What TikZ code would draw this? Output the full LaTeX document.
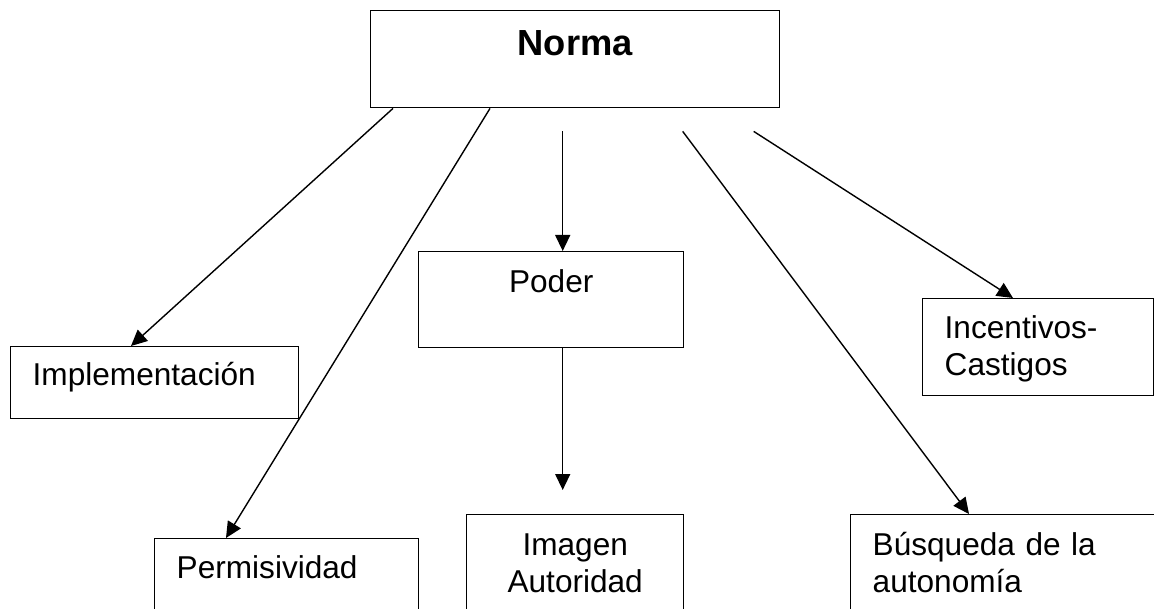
\documentclass[tikz,border=0pt]{standalone}
\usepackage{fontspec}
\setmainfont{Liberation Sans}
\usetikzlibrary{arrows.meta}
\tikzstyle{box} = [draw, rectangle, anchor=north west, inner xsep=22pt, inner ysep=0pt, line width=1.4pt, font=\fontsize{31.6}{36.5}\selectfont]

\begin{document}
\begin{tikzpicture}[x=1pt, y=-1pt, >={Triangle[length=16pt, width=15pt]}, line width=1.4pt]

    \useasboundingbox (0,0) rectangle (1154,609);

    \node[box, text width=365pt, align=center, text height=45pt, text depth=52pt, font=\fontsize{36.3}{42}\selectfont\bfseries] (norma) at (370,10) {Norma};
    \node[box, text width=244pt, align=left, text height=39pt, text depth=33pt] (impl) at (10,346) {Implementación};
    \node[box, text width=220pt, align=left, text height=40pt, text depth=100pt] (perm) at (154,538) {Permisividad};
    \node[box, text width=221pt, align=center, text height=41pt, text depth=55pt] (poder) at (418,251) {Poder};
    \node[box, text width=173pt, align=center, text height=41pt, text depth=110pt] (imagen) at (466,514) {Imagen\\Autoridad};
    \node[box, text width=187pt, align=left, text height=40pt, text depth=57pt] (incent) at (922,298) {Incentivos-\\Castigos};
    \node[box, text width=266pt, align=left, text height=41pt, text depth=110pt] (busq) at (850,514) {Búsqueda de la\\autonomía};

    \draw[->] ([xshift=23pt]norma.south west) -- ([xshift=121pt]impl.north west);
    \draw[->] ([xshift=120pt]norma.south west) -- ([xshift=72pt]perm.north west);
    \draw[->] ([xshift=-12.5pt, yshift=-23pt]norma.south) -- ([xshift=11.5pt]poder.north);
    \draw[->] ([xshift=107.5pt, yshift=-23pt]norma.south) -- ([xshift=119pt]busq.north west);
    \draw[->] ([xshift=178.5pt, yshift=-23pt]norma.south) -- ([xshift=91pt]incent.north west);
    \draw[->] ([xshift=11.5pt]poder.south) -- ([xshift=-12.5pt, yshift=24pt]imagen.north);

\end{tikzpicture}
\end{document}
